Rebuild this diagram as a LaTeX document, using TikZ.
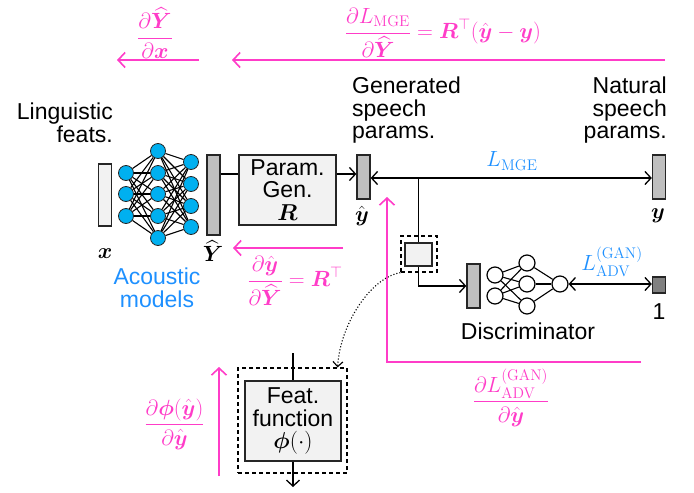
\RequirePackage{fix-cm}
\documentclass[tikz,border=0pt]{standalone}
\usepackage{amsmath,amssymb}
\usepackage[no-math]{fontspec}
\setmainfont{Liberation Sans}
\usetikzlibrary{arrows.meta,positioning,calc}
\usepackage{xcolor}
\definecolor{gradpink}{HTML}{FF3CC8}
\definecolor{lossblue}{HTML}{1E90FF}
\definecolor{unitblue}{HTML}{00B0F0}
\definecolor{bargray}{HTML}{BFBFBF}
\definecolor{boxgray}{HTML}{F2F2F2}
\definecolor{onegray}{HTML}{808080}
\definecolor{dark}{HTML}{262626}
\tikzset{
  txt/.style={font=\fontsize{23}{22.5}\selectfont, inner sep=0pt},
  mth/.style={font=\fontsize{22}{24}\selectfont, inner sep=0pt},
  gradlabel/.style={mth, text=gradpink},
  losslabel/.style={mth, text=lossblue},
  bar/.style={draw=dark, line width=1.3pt, fill=bargray, minimum width=13pt, inner sep=0pt},
  inbar/.style={bar, fill=boxgray},
  onebar/.style={bar, fill=onegray},
  procbox/.style={draw=dark, line width=1.3pt, fill=boxgray, align=center, inner sep=0pt, font=\fontsize{23}{22.5}\selectfont},
  dashbox/.style={draw=black, dash pattern=on 4pt off 3pt, line width=1.2pt, inner sep=0pt},
  unit/.style={circle, draw=dark, line width=0.8pt, fill=unitblue, minimum size=15pt, inner sep=0pt},
  dunit/.style={circle, draw=black, line width=1.2pt, fill=white, minimum size=16pt, inner sep=0pt},
  net/.style={line width=1.1pt, draw=black},
  wire/.style={line width=1.3pt, draw=black},
  arrow/.style={-{Straight Barb[length=6pt,width=13pt]}, line width=1.3pt, draw=black},
  twoway/.style={{Straight Barb[length=6pt,width=13pt]}-{Straight Barb[length=6pt,width=13pt]}, line width=1.3pt, draw=black},
  grad/.style={-{Straight Barb[length=7pt,width=15pt]}, line width=1.6pt, draw=gradpink}
}

\begin{document}
\begin{tikzpicture}[x=1pt, y=-1pt]
  \useasboundingbox (0,0) rectangle (694,493);
  % captions
  \node[txt, align=right, anchor=north east] (ling) at (113,103) {Linguistic\\feats.};
  \node[txt, align=left, anchor=north west] (gen) at (352,77) {Generated\\speech\\params.};
  \node[txt, align=right, anchor=north east] (nat) at (667,77) {Natural\\speech\\params.};

  % acoustic models
  \node[inbar, minimum height=62pt] (x) at (105,195) {};
  \node[bar, minimum height=80pt] (Yhat) at (213.5,195) {};
  \foreach \i/\y in {1/173,2/194,3/216} \node[unit] (a1\i) at (126,\y) {};
  \foreach \i/\y in {1/151,2/173,3/194,4/216,5/238} \node[unit] (a2\i) at (158,\y) {};
  \foreach \i/\y in {1/162,2/184,3/206,4/227} \node[unit] (a3\i) at (191,\y) {};
  \foreach \i in {1,2,3} \foreach \j in {1,...,5} \draw[net] (a1\i) -- (a2\j);
  \foreach \i in {1,...,5} \foreach \j in {1,...,4} \draw[net] (a2\i) -- (a3\j);
  \node[mth] (xlab) at (105,254) {$\boldsymbol{x}$};
  \node[mth] (Ylab) at (213,251) {$\widehat{\boldsymbol{Y}}$};
  \node[txt, text=lossblue, align=center, anchor=north] (am) at (157,268) {Acoustic\\models};

  % parameter generation
  \node[procbox, minimum width=97pt, minimum height=70pt] (pgen) at (287.5,190) {Param.\\Gen.\\$\boldsymbol{R}$};
  \node[bar, minimum height=44pt] (yhat) at (363.5,177) {};
  \node[bar, minimum height=44pt] (y) at (659,177) {};
  \node[mth] (yhatlab) at (362,216) {$\hat{\boldsymbol{y}}$};
  \node[mth] (ylab) at (658,216) {$\boldsymbol{y}$};
  \draw[wire] (Yhat.east |- 0,174) -- (pgen.west |- 0,174);
  \draw[arrow] (pgen.east |- 0,174) -- (yhat.west |- 0,174);
  \draw[twoway] (yhat.east |- 0,178) -- (y.west |- 0,178);
  \node[losslabel] (lmge) at (512,161) {$L_{\mathrm{MGE}}$};

  % small feature box and discriminator
  \coordinate (branch) at (418.5,178);
  \node[procbox, minimum width=27pt, minimum height=23pt] (feat0) at (418.5,254.5) {};
  \node[dashbox, minimum width=36pt, minimum height=36pt] (feat0out) at (419,254) {};
  \draw[wire] (branch) -- (feat0);
  \node[bar, minimum height=44pt] (dbar) at (473.5,286) {};
  \draw[arrow] (feat0.south) |- (dbar.west);
  \foreach \i/\y in {1/275,2/296} \node[dunit] (d1\i) at (495,\y) {};
  \foreach \i/\y in {1/263,2/284,3/306} \node[dunit] (d2\i) at (527,\y) {};
  \node[dunit] (d31) at (560,284) {};
  \foreach \i in {1,2} \foreach \j in {1,2,3} \draw[net] (d1\i) -- (d2\j);
  \foreach \j in {1,2,3} \draw[net] (d2\j) -- (d31);
  \node[onebar, minimum height=16pt] (one) at (659,285) {};
  \draw[twoway] (d31.east) -- (one.west |- d31.east);
  \node[txt, anchor=north] (onelab) at (659,303) {1};
  \node[txt, anchor=north] (disc) at (528,323) {Discriminator};
  \node[losslabel] (ladv) at (612,262) {$L_{\mathrm{ADV}}^{(\mathrm{GAN})}$};

  % feature function
  \node[procbox, minimum width=96pt, minimum height=80pt] (feat) at (293,421) {Feat.\\function\\$\boldsymbol{\phi}(\cdot)$};
  \node[dashbox, minimum width=109pt, minimum height=105pt] (featout) at (292.5,420.5) {};
  \coordinate (featin) at (293,353);
  \coordinate (featend) at (293,487);
  \draw[wire] (featin) -- (feat);
  \draw[arrow] (feat) -- (featend);
  \draw[-{Straight Barb[length=5pt,width=10pt]}, dotted, line width=1.1pt]
    (feat0out.south west) .. controls (370,278) and (340,325) .. ([xshift=-10pt]featout.north east);

  % gradients
  \coordinate (g1s) at (199,60);
  \coordinate (g1e) at (117,60);
  \draw[grad] (g1s) -- (g1e);
  \node[gradlabel] (g1) at (155,33) {$\dfrac{\partial\widehat{\boldsymbol{Y}}}{\partial\boldsymbol{x}}$};
  \coordinate (g2s) at (665,60);
  \coordinate (g2e) at (232,60);
  \draw[grad] (g2s) -- (g2e);
  \node[gradlabel] (g2) at (443,33) {$\dfrac{\partial L_{\mathrm{MGE}}}{\partial\widehat{\boldsymbol{Y}}}=\boldsymbol{R}^{\top}(\hat{\boldsymbol{y}}-\boldsymbol{y})$};
  \coordinate (g3s) at (343,248);
  \coordinate (g3e) at (233,248);
  \draw[grad] (g3s) -- (g3e);
  \node[gradlabel] (g3) at (295,281) {$\dfrac{\partial\hat{\boldsymbol{y}}}{\partial\widehat{\boldsymbol{Y}}}=\boldsymbol{R}^{\top}$};
  \coordinate (g4s) at (641,362);
  \coordinate (g4e) at (387,197);
  \draw[grad] (g4s) -| (g4e);
  \node[gradlabel] (g4) at (511,398) {$\dfrac{\partial L_{\mathrm{ADV}}^{(\mathrm{GAN})}}{\partial\hat{\boldsymbol{y}}}$};
  \coordinate (g5s) at (219,476);
  \coordinate (g5e) at (219,367);
  \draw[grad] (g5s) -- (g5e);
  \node[gradlabel] (g5) at (174.5,424) {$\dfrac{\partial\boldsymbol{\phi}(\hat{\boldsymbol{y}})}{\partial\hat{\boldsymbol{y}}}$};
\end{tikzpicture}
\end{document}
